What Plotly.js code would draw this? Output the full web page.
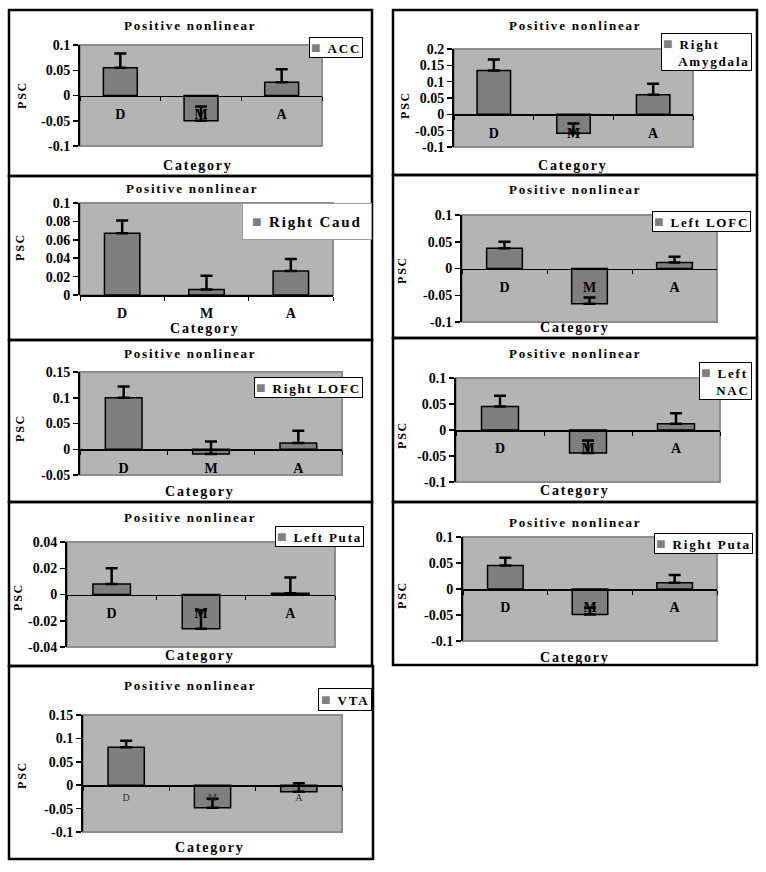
<!DOCTYPE html>
<html>
<head>
<meta charset="utf-8">
<script src="https://cdn.plot.ly/plotly-3.0.1.min.js"></script>
<style>
  body { margin: 0; background: white; }
  #chart { width: 766px; height: 872px; }
  /* the scanned original has widely spaced lettering */
  text.annotation-text { letter-spacing: 1.8px; }
</style>
</head>
<body>
<div id="chart"></div>
<script>
// categories on every panel
let categories = ["D", "M", "A"];

// PSC means and (upper) error bars
let pscACC = [0.055, -0.05, 0.026];
let errACC = [0.028, 0.028, 0.026];
let pscRightAmygdala = [0.134, -0.058, 0.06];
let errRightAmygdala = [0.034, 0.03, 0.034];
let pscRightCaud = [0.067, 0.006, 0.026];
let errRightCaud = [0.014, 0.015, 0.013];
let pscLeftLOFC = [0.038, -0.066, 0.011];
let errLeftLOFC = [0.012, 0.012, 0.011];
let pscRightLOFC = [0.1, -0.009, 0.012];
let errRightLOFC = [0.022, 0.024, 0.024];
let pscLeftNAC = [0.045, -0.044, 0.012];
let errLeftNAC = [0.021, 0.024, 0.02];
let pscLeftPuta = [0.008, -0.026, 0.001];
let errLeftPuta = [0.012, 0.014, 0.012];
let pscRightPuta = [0.045, -0.049, 0.012];
let errRightPuta = [0.015, 0.013, 0.015];
let pscVTA = [0.081, -0.048, -0.014];
let errVTA = [0.014, 0.019, 0.018];

// y tick values per panel
let ticksACC = [-0.1, -0.05, 0, 0.05, 0.1];
let ticksRightAmygdala = [-0.1, -0.05, 0, 0.05, 0.1, 0.15, 0.2];
let ticksRightCaud = [0, 0.02, 0.04, 0.06, 0.08, 0.1];
let ticksLeftLOFC = [-0.1, -0.05, 0, 0.05, 0.1];
let ticksRightLOFC = [-0.05, 0, 0.05, 0.1, 0.15];
let ticksLeftNAC = [-0.1, -0.05, 0, 0.05, 0.1];
let ticksLeftPuta = [-0.04, -0.02, 0, 0.02, 0.04];
let ticksRightPuta = [-0.1, -0.05, 0, 0.05, 0.1];
let ticksVTA = [-0.1, -0.05, 0, 0.05, 0.1, 0.15];

// legend labels, one per panel (line breaks as in the original)
let regionLabels = [["ACC"], ["Right", "Amygdala"], ["Right Caud"], ["Left LOFC"], ["Right LOFC"],
                    ["Left", "NAC"], ["Left Puta"], ["Right Puta"], ["VTA"]];

let W = 766, H = 872;
let serif = "Liberation Serif, Times New Roman, serif";
let barGrey = "#7f7f7f";

// pixel -> paper helpers
function fx(x) { return x / W; }
function fy(y) { return 1 - y / H; }

// panel layout: plot = [left, top, right, bottom] in px, box = outer frame
let panels = [
  { vals: pscACC, err: errACC, ticks: ticksACC,
    plot: [80, 45, 322, 146], box: [9, 10, 372, 176], title: [190, 25], cat: [198, 165], psc: [22, 95], leg: [363, 37], pad: 1 },
  { vals: pscRightAmygdala, err: errRightAmygdala, ticks: ticksRightAmygdala,
    plot: [454, 49, 693, 147], box: [393, 10, 757, 175], title: [575, 25], cat: [573, 165], psc: [405, 105], leg: [752, 33], pad: 1 },
  { vals: pscRightCaud, err: errRightCaud, ticks: ticksRightCaud,
    plot: [80, 203, 333, 295], box: [9, 176, 372, 340], title: [192, 188], cat: [205, 329], psc: [20, 247], leg: [372, 203], pad: 9, legBorder: "#9a9a9a", legSize: 15 },
  { vals: pscLeftLOFC, err: errLeftLOFC, ticks: ticksLeftLOFC,
    plot: [462, 215, 717, 322], box: [393, 175, 757, 338], title: [575, 190], cat: [575, 327], psc: [402, 270], leg: [751, 211], pad: 1 },
  { vals: pscRightLOFC, err: errRightLOFC, ticks: ticksRightLOFC,
    plot: [80, 372, 342, 475], box: [9, 340, 372, 502], title: [190, 353], cat: [200, 492], psc: [20, 428], leg: [363, 377], pad: 1 },
  { vals: pscLeftNAC, err: errLeftNAC, ticks: ticksLeftNAC,
    plot: [456, 378, 720, 482], box: [393, 338, 757, 502], title: [575, 353], cat: [575, 490], psc: [402, 435], leg: [752, 362], pad: 1 },
  { vals: pscLeftPuta, err: errLeftPuta, ticks: ticksLeftPuta,
    plot: [67, 542, 335, 647], box: [9, 502, 372, 666], title: [190, 517], cat: [200, 655], psc: [18, 597], leg: [364, 526], pad: 1 },
  { vals: pscRightPuta, err: errRightPuta, ticks: ticksRightPuta,
    plot: [463, 537, 717, 641], box: [393, 502, 757, 665], title: [575, 522], cat: [575, 657], psc: [402, 595], leg: [753, 533], pad: 1 },
  { vals: pscVTA, err: errVTA, ticks: ticksVTA,
    plot: [83, 715, 342, 832], box: [9, 666, 373, 859], title: [190, 685], cat: [210, 847], psc: [22, 775], leg: [372, 688], pad: 2, smallCats: true }
];

let data = [];
let layout = {
  width: W,
  height: H,
  margin: { l: 0, r: 0, t: 0, b: 0 },
  paper_bgcolor: "white",
  plot_bgcolor: "#b4b4b4",
  bargap: 0.58,
  showlegend: false,
  font: { family: serif, color: "black" },
  shapes: [],
  annotations: []
};

panels.forEach(function (p, i) {
  let s = i === 0 ? "" : String(i + 1);
  let lo = p.ticks[0], hi = p.ticks[p.ticks.length - 1];
  let label = regionLabels[i];

  data.push({
    type: "bar",
    x: categories,
    y: p.vals,
    name: label.join(" "),
    xaxis: "x" + s,
    yaxis: "y" + s,
    marker: { color: barGrey, line: { color: "black", width: 1.5 } },
    error_y: {
      type: "data", symmetric: false, array: p.err, arrayminus: [0, 0, 0],
      color: "black", thickness: 2.5, width: 6
    },
    hoverinfo: "skip"
  });

  let yBottom = fy(p.plot[3]), yTop = fy(p.plot[1]);
  // x axis sits on the zero line, like the Excel original
  let zeroPos = yBottom + (0 - lo) / (hi - lo) * (yTop - yBottom);

  layout["xaxis" + s] = {
    domain: [fx(p.plot[0]), fx(p.plot[2])],
    anchor: "free",
    position: zeroPos,
    type: "category",
    range: [-0.5, 2.5],
    showgrid: false,
    zeroline: false,
    showline: true,
    linecolor: "black",
    linewidth: 1.5,
    ticks: "outside",
    tickson: "boundaries",
    ticklen: 4,
    tickcolor: "black",
    ticklabelstandoff: p.smallCats ? 2 : 5,
    tickfont: p.smallCats ? { family: serif, size: 10, color: "#333" } : { family: serif, size: 14, color: "black", weight: "bold" },
    fixedrange: true
  };
  layout["yaxis" + s] = {
    domain: [yBottom, yTop],
    anchor: "x" + s,
    range: [lo, hi],
    tickvals: p.ticks,
    ticktext: p.ticks.map(String),
    showgrid: false,
    zeroline: false,
    showline: true,
    linecolor: "black",
    linewidth: 2,
    ticks: "outside",
    ticklen: 5,
    tickwidth: 1.5,
    tickcolor: "black",
    tickfont: { family: serif, size: 14, color: "black", weight: "bold" },
    fixedrange: true
  };

  // outer frame of the panel
  layout.shapes.push({
    type: "rect", xref: "paper", yref: "paper", layer: "below",
    x0: fx(p.box[0]), x1: fx(p.box[2]), y0: fy(p.box[3]), y1: fy(p.box[1]),
    line: { color: "black", width: 2.5 }
  });
  // grey plot-area border
  layout.shapes.push({
    type: "rect", xref: "x" + s + " domain", yref: "y" + s + " domain", layer: "below",
    x0: 0, x1: 1, y0: 0, y1: 1,
    line: { color: "#8c8c8c", width: 2 }
  });

  layout.annotations.push({
    text: "<b>Positive nonlinear</b>", xref: "paper", yref: "paper",
    x: fx(p.title[0]), y: fy(p.title[1]), showarrow: false,
    xanchor: "center", yanchor: "middle",
    font: { family: serif, size: 13, color: "black" }
  });
  layout.annotations.push({
    text: "<b>Category</b>", xref: "paper", yref: "paper",
    x: fx(p.cat[0]), y: fy(p.cat[1]), showarrow: false,
    xanchor: "center", yanchor: "middle",
    font: { family: serif, size: 14, color: "black" }
  });
  layout.annotations.push({
    text: "<b>PSC</b>", xref: "paper", yref: "paper",
    x: fx(p.psc[0]), y: fy(p.psc[1]), showarrow: false, textangle: -90,
    xanchor: "center", yanchor: "middle",
    font: { family: serif, size: 12, color: "black" }
  });

  // Excel-style legend box: grey swatch + series name
  let swatch = "<span style='color:" + barGrey + ";font-size:16px'>■</span> ";
  let legText = swatch + "<b>" + label[0] + "</b>";
  for (let k = 1; k < label.length; k++) {
    legText += "<br>&nbsp;&nbsp;&nbsp;<b>" + label[k] + "</b>";
  }
  layout.annotations.push({
    text: legText, xref: "paper", yref: "paper",
    x: fx(p.leg[0]), y: fy(p.leg[1]), showarrow: false,
    xanchor: "right", yanchor: "top", align: "left",
    bgcolor: "white", bordercolor: p.legBorder || "black", borderwidth: 1, borderpad: p.pad,
    font: { family: serif, size: p.legSize || 13, color: "black" }
  });
});

Plotly.newPlot("chart", data, layout, { staticPlot: true });
</script>
</body>
</html>
